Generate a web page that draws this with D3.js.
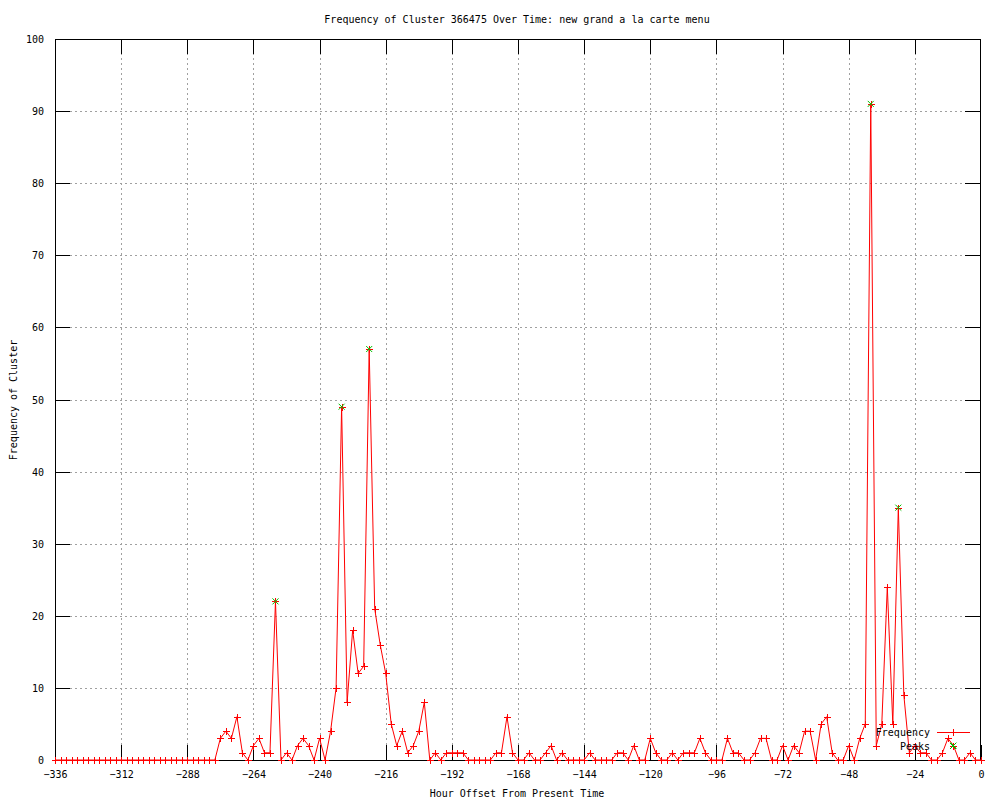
<!DOCTYPE html>
<html>
<head>
<meta charset="utf-8">
<script src="https://cdn.jsdelivr.net/npm/d3@7"></script>
<style>
  html, body { margin: 0; padding: 0; background: #fff; }
  #chart text { font-family: "DejaVu Sans Mono", monospace; font-size: 10px; fill: #000; }
</style>
</head>
<body>
<div id="chart"></div>
<script>
// Hour offsets, sampled every 2 hours from -336 to 0
const hours = d3.range(-336, 1, 2);

// Frequency of cluster at each sample
const frequency = [
  0, 0, 0, 0, 0, 0, 0, 0, 0, 0,
  0, 0, 0, 0, 0, 0, 0, 0, 0, 0,
  0, 0, 0, 0, 0, 0, 0, 0, 0, 0,
  3, 4, 3, 6, 1, 0, 2, 3, 1, 1,
  22, 0, 1, 0, 2, 3, 2, 0, 3, 0,
  4, 10, 49, 8, 18, 12, 13, 57, 21, 16,
  12, 5, 2, 4, 1, 2, 4, 8, 0, 1,
  0, 1, 1, 1, 1, 0, 0, 0, 0, 0,
  1, 1, 6, 1, 0, 0, 1, 0, 0, 1,
  2, 0, 1, 0, 0, 0, 0, 1, 0, 0,
  0, 0, 1, 1, 0, 2, 0, 0, 3, 1,
  0, 0, 1, 0, 1, 1, 1, 3, 1, 0,
  0, 0, 3, 1, 1, 0, 0, 1, 3, 3,
  0, 0, 2, 0, 2, 1, 4, 4, 0, 5,
  6, 1, 0, 0, 2, 0, 3, 5, 91, 2,
  5, 24, 5, 35, 9, 1, 2, 1, 1, 0,
  0, 1, 3, 2, 0, 0, 1, 0, 0
];

// Detected peaks
const peakHours = [-256, -232, -222, -40, -30, -10];
const peakValues = [22, 49, 57, 91, 35, 2];

// Ticks
const xTicks = d3.range(-336, 1, 24);
const yTicks = d3.range(0, 101, 10);

const titleText = 'Frequency of Cluster 366475 Over Time: new grand a la carte menu';
const xLabel = 'Hour Offset From Present Time';
const yLabel = 'Frequency of Cluster';
const seriesNames = ['Frequency', 'Peaks'];

document.addEventListener('DOMContentLoaded', function() {
  const width = 1000;
  const height = 800;
  const margin = { top: 39, right: 20, bottom: 40, left: 55 };
  const tickLen = 15;
  const red = '#ff0000';
  const green = '#00c000';

  const svg = d3.select('#chart')
    .append('svg')
    .attr('width', width)
    .attr('height', height)
    .attr('viewBox', [0, 0, width, height]);

  // gnuplot places the data a hair to the right of the border
  const x = d3.scaleLinear()
    .domain([-336, 0])
    .range([margin.left, width - margin.right + 1]);

  const y = d3.scaleLinear()
    .domain([0, 100])
    .range([height - margin.bottom, margin.top]);

  const x0 = margin.left;
  const x1 = width - margin.right;
  const [y0, y1] = y.range();

  // Grid (dotted, skip the ones on the border)
  const grid = svg.append('g')
    .attr('stroke', '#a0a0a0')
    .attr('stroke-dasharray', '2,3')
    .attr('shape-rendering', 'crispEdges');

  grid.selectAll('line.gx')
    .data(xTicks.slice(1, -1))
    .join('line')
    .attr('x1', d => Math.round(x(d)) + 0.5)
    .attr('x2', d => Math.round(x(d)) + 0.5)
    .attr('y1', y0)
    .attr('y2', y1);

  grid.selectAll('line.gy')
    .data(yTicks.slice(1, -1))
    .join('line')
    .attr('x1', x0)
    .attr('x2', x1)
    .attr('y1', d => Math.round(y(d)) + 0.5)
    .attr('y2', d => Math.round(y(d)) + 0.5);

  // Axes with inward ticks on all four sides
  const bottomAxis = d3.axisBottom(x)
    .tickValues(xTicks)
    .tickSize(-tickLen)
    .tickPadding(9)
    .tickFormat(d3.format('d'));

  const leftAxis = d3.axisLeft(y)
    .tickValues(yTicks)
    .tickSize(-tickLen)
    .tickPadding(11)
    .tickFormat(d3.format('d'));

  const gx = svg.append('g')
    .attr('transform', `translate(0,${y0})`)
    .call(bottomAxis);

  const gy = svg.append('g')
    .attr('transform', `translate(${x0},0)`)
    .call(leftAxis);

  svg.append('g')
    .attr('transform', `translate(0,${y1})`)
    .call(d3.axisTop(x).tickValues(xTicks.slice(0, -1)).tickSize(-tickLen).tickFormat(''));

  svg.append('g')
    .attr('transform', `translate(${x1},0)`)
    .call(d3.axisRight(y).tickValues(yTicks).tickSize(-tickLen).tickFormat(''));

  svg.selectAll('.domain').remove();
  svg.selectAll('.tick line')
    .attr('stroke', '#000')
    .attr('shape-rendering', 'crispEdges');
  gx.selectAll('text').attr('dy', '0.9em');
  gy.selectAll('text').attr('dy', '0.35em');
  svg.selectAll('.tick text')
    .style('font-family', '"DejaVu Sans Mono", monospace')
    .style('font-size', '10px')
    .attr('fill', '#000');

  // Border
  svg.append('rect')
    .attr('x', x0 + 0.5)
    .attr('y', y1 + 0.5)
    .attr('width', x1 - x0)
    .attr('height', y0 - y1)
    .attr('fill', 'none')
    .attr('stroke', '#000')
    .attr('shape-rendering', 'crispEdges');

  // Frequency line with + markers
  const points = hours.map((h, i) => ({ h: h, v: frequency[i] }));

  const line = d3.line()
    .x(d => x(d.h))
    .y(d => y(d.v));

  svg.append('path')
    .datum(points)
    .attr('d', line)
    .attr('fill', 'none')
    .attr('stroke', red)
    .attr('stroke-width', 1);

  const plus = (cx, cy, r) => `M${cx - r},${cy}h${2 * r}M${cx},${cy - r}v${2 * r}`;
  const cross = (cx, cy, r) =>
    `M${cx - r},${cy - r}L${cx + r},${cy + r}M${cx - r},${cy + r}L${cx + r},${cy - r}`;

  svg.append('path')
    .attr('d', points.map(d => plus(Math.round(x(d.h)) + 0.5, Math.round(y(d.v)) + 0.5, 3.5)).join(''))
    .attr('fill', 'none')
    .attr('stroke', red)
    .attr('shape-rendering', 'crispEdges');

  // Peaks as green crosses
  svg.append('path')
    .attr('d', peakHours.map((h, i) => cross(x(h), y(peakValues[i]), 3)).join(''))
    .attr('fill', 'none')
    .attr('stroke', green);

  // Legend
  const legend = svg.append('g');
  const legendRows = [
    { name: seriesNames[0], y: 732, color: red },
    { name: seriesNames[1], y: 746, color: green }
  ];

  legend.selectAll('text')
    .data(legendRows)
    .join('text')
    .attr('x', 930)
    .attr('y', d => d.y)
    .attr('dy', '0.35em')
    .attr('text-anchor', 'end')
    .text(d => d.name);

  legend.append('line')
    .attr('x1', 937).attr('x2', 970)
    .attr('y1', 732.5).attr('y2', 732.5)
    .attr('stroke', red)
    .attr('shape-rendering', 'crispEdges');
  legend.append('path')
    .attr('d', plus(953.5, 732.5, 3.5))
    .attr('stroke', red)
    .attr('shape-rendering', 'crispEdges');
  legend.append('path')
    .attr('d', cross(953, 746, 3))
    .attr('stroke', green);

  // Title and axis labels
  svg.append('text')
    .attr('x', 517)
    .attr('y', 19)
    .attr('dy', '0.35em')
    .attr('text-anchor', 'middle')
    .text(titleText);

  svg.append('text')
    .attr('x', 517)
    .attr('y', 793)
    .attr('dy', '0.35em')
    .attr('text-anchor', 'middle')
    .text(xLabel);

  svg.append('text')
    .attr('transform', 'translate(13,400) rotate(-90)')
    .attr('dy', '0.35em')
    .attr('text-anchor', 'middle')
    .text(yLabel);
});
</script>
</body>
</html>
